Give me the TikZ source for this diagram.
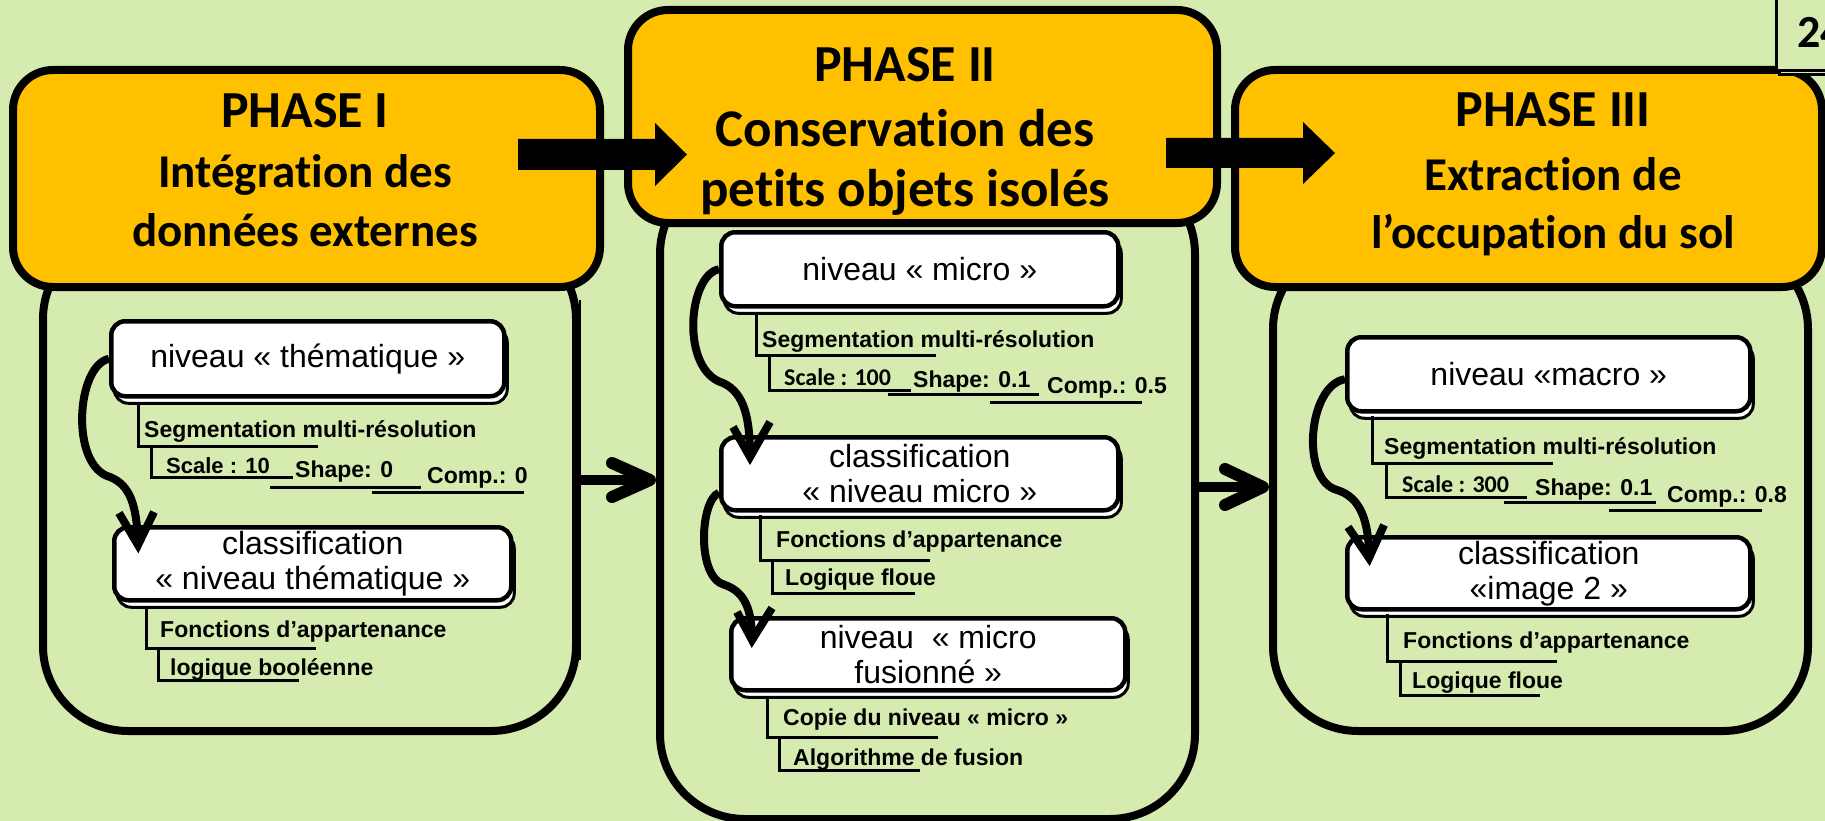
\documentclass[tikz,border=0pt]{standalone}
\usepackage{fontspec}
\newfontfamily\carlito[Ligatures={NoCommon,NoContextual}]{Carlito}
\newfontfamily\libsans{Liberation Sans}
\usetikzlibrary{shadows,calc}
\definecolor{bg}{RGB}{214,235,175}
\definecolor{hdrorange}{RGB}{255,192,0}
\newcommand{\nolig}{\kern0pt}
\tikzset{
  hdr/.style={draw=black, fill=hdrorange, line width=8pt, rounded corners=40pt, inner sep=0pt, anchor=north west},
  bodybox/.style={draw=black, line width=8pt, rounded corners=85pt, inner sep=0pt, anchor=north west},
  wbox/.style={draw=black, fill=white, line width=4.5pt, rounded corners=14pt, inner sep=0pt, anchor=north west, align=center,
    font=\libsans\fontsize{32}{35}\selectfont,
    general shadow={fill=white, draw=black, line width=3pt, shadow xshift=3pt, shadow yshift=-7pt}},
  htxt/.style={anchor=base, inner sep=0pt},
  ttl/.style={htxt, font=\carlito\bfseries\fontsize{52}{60}\selectfont},
  ann/.style={anchor=base west, inner sep=0pt, font=\libsans\bfseries\fontsize{23}{26}\selectfont},
  annc/.style={anchor=base west, inner sep=0pt, font=\carlito\bfseries\fontsize{24}{26}\selectfont},
  bline/.style={line width=3pt},
  curv/.style={line width=8pt},
  chev/.style={line width=8pt, line join=miter},
  shaft/.style={line width=10pt},
  barb/.style={line width=12pt, line cap=round, line join=round},
}
\begin{document}
\begin{tikzpicture}[x=1pt,y=-1pt]
\clip (0,0) rectangle (1825,821);
\fill[bg] (0,0) rectangle (1825,821);

% body boxes
\node[bodybox, minimum width=533pt, minimum height=497pt] (b1) at (39,230) {};
\node[bodybox, minimum width=535pt, minimum height=650pt] (b2) at (656,165) {};
\node[bodybox, minimum width=535pt, minimum height=487pt] (b3) at (1269,240) {};
\draw[line width=2pt] (580,300) -- (580,660);

% headers
\node[hdr, minimum width=587pt, minimum height=217pt] (h1) at (9,66) {};
\node[hdr, minimum width=589pt, minimum height=213pt] (h2) at (624,6) {};
\node[hdr, minimum width=587pt, minimum height=217pt] (h3) at (1231,66) {};

% block arrows
\coordinate (ba1) at (518,154.5);
\coordinate (ba2) at (1166,153);
\fill (ba1) ++(0,-15.5) -- ++(137,0) -- ++(0,-16) -- (687,154.5) -- (655,186) -- (655,170) -- (518,170) -- cycle;
\fill (ba2) ++(0,-15) -- ++(137,0) -- ++(0,-16) -- (1335,153) -- (1303,184) -- (1303,168) -- (1166,168) -- cycle;

% header texts
\node[ttl] (h1a) at (305,128) {PHASE I};
\node[htxt, font=\carlito\bfseries\fontsize{47}{56}\selectfont] (h1b) at (305,188) {Intégrat\nolig ion des};
\node[htxt, font=\carlito\bfseries\fontsize{47}{56}\selectfont] (h1c) at (305,246) {données externes};
\node[ttl] (h2a) at (905,82) {PHASE II};
\node[htxt, font=\carlito\bfseries\fontsize{53}{60}\selectfont] (h2b) at (905,147) {Conservat\nolig ion des};
\node[htxt, font=\carlito\bfseries\fontsize{53}{60}\selectfont] (h2c) at (905,207) {pet\nolig its objets isolés};
\node[ttl] (h3a) at (1553,127) {PHASE III};
\node[htxt, font=\carlito\bfseries\fontsize{47}{56}\selectfont] (h3b) at (1553,190) {Extract\nolig ion de};
\node[htxt, font=\carlito\bfseries\fontsize{47}{56}\selectfont] (h3c) at (1553,248) {l’occupat\nolig ion du sol};

% page number box
\draw[line width=3pt, fill=bg] (1779,-10) rectangle (1840,75);
\draw[line width=3pt, fill=bg] (1776,-10) rectangle (1840,71);
\node[anchor=base west, inner sep=0pt, font=\carlito\bfseries\fontsize{46}{50}\selectfont] (pg) at (1797,48) {24};

% white nodes
\node[wbox, minimum width=393pt, minimum height=75pt] (n1) at (109,319) {niveau « thématique »};
\node[wbox, minimum width=397pt, minimum height=73pt] (n2) at (112,525) {classification\\« niveau thématique »};
\node[wbox, minimum width=397pt, minimum height=74pt] (m1) at (719,230) {niveau « micro »};
\node[wbox, minimum width=397pt, minimum height=73pt] (m2) at (719,435) {classification\\« niveau micro »};
\node[wbox, minimum width=394pt, minimum height=72pt] (m3) at (729,616) {niveau~~« micro\\fusionné »};
\node[wbox, minimum width=403pt, minimum height=74pt] (q1) at (1345,335) {niveau «macro »};
\node[wbox, minimum width=403pt, minimum height=72pt] (q2) at (1345,535) {classification\\«image 2 »};

% curved arrows
\coordinate (t1) at (138,545);
\draw[curv] (n1.west) .. controls (76,366) and (70,466) .. (110,477) .. controls (130,485) and (137,505) .. (t1);
\draw[chev] (119,513) -- (t1) -- (154,512);
\coordinate (t2) at (750,457);
\draw[curv] (m1.west) .. controls (688,275) and (680,370) .. (723,383) .. controls (745,393) and (750,420) .. (t2);
\draw[chev] (733,427) -- (t2) -- (770,422);
\coordinate (t3) at (752,640);
\draw[curv] ([yshift=-19pt]m2.west) .. controls (700,500) and (696,578) .. (725,585) .. controls (745,592) and (752,610) .. (t3);
\draw[chev] (737,612) -- (t3) -- (772,608);
\coordinate (t4) at (1369,558);
\draw[curv] ([yshift=-5pt]q1.west) .. controls (1308,385) and (1300,480) .. (1337,490) .. controls (1360,497) and (1369,520) .. (t4);
\draw[chev] (1348,527) -- (t4) -- (1384,525);

% annotations phase I
\draw[bline] (138,403) -- (138,446) -- (318,446);
\node[ann] (a11) at (144,437) {Segmentation multi-résolution};
\draw[bline] (151,446) -- (151,477) -- (293,477);
\node[ann, font=\libsans\bfseries\fontsize{22}{26}\selectfont] (a12) at (166,473) {Scale : 10};
\node[ann] (a13) at (295,477) {Shape: 0};
\draw[bline] (270,487) -- (421,487);
\node[ann] (a14) at (427,483) {Comp.: 0};
\draw[bline] (372,492) -- (524,492);
\draw[bline] (146,607) -- (146,648) -- (316,648);
\node[ann] (a15) at (160,637) {Fonctions d’appartenance};
\draw[bline] (158,648) -- (158,680) -- (299,680);
\node[ann] (a16) at (170,675) {logique booléenne};

% annotations phase II
\draw[bline] (756,312) -- (756,355) -- (936,355);
\node[ann] (a21) at (762,347) {Segmentation multi-résolution};
\draw[bline] (769,355) -- (769,390) -- (911,390);
\node[annc] (a22) at (784,385) {Scale : 100};
\node[ann] (a23) at (913,387) {Shape: 0.1};
\draw[bline] (888,394) -- (1039,394);
\node[ann] (a24) at (1047,393) {Comp.: 0.5};
\draw[bline] (990,402) -- (1142,402);
\draw[bline] (760,515) -- (760,560) -- (930,560);
\node[ann] (a25) at (776,547) {Fonctions d’appartenance};
\draw[bline] (772,560) -- (772,593) -- (915,593);
\node[ann] (a26) at (785,585) {Logique floue};
\draw[bline] (767,696) -- (767,737) -- (938,737);
\node[ann] (a27) at (783,725) {Copie du niveau « micro »};
\draw[bline] (779,737) -- (779,770) -- (920,770);
\node[ann] (a28) at (793,765) {Algorithme de fusion};

% annotations phase III
\draw[bline] (1372,416) -- (1372,463) -- (1553,463);
\node[ann] (a31) at (1384,454) {Segmentation multi-résolution};
\draw[bline] (1386,463) -- (1386,497) -- (1527,497);
\node[annc] (a32) at (1402,492) {Scale : 300};
\node[ann] (a33) at (1535,495) {Shape: 0.1};
\draw[bline] (1504,502) -- (1656,502);
\node[ann] (a34) at (1667,502) {Comp.: 0.8};
\draw[bline] (1609,510) -- (1762,510);
\draw[bline] (1387,614) -- (1387,661) -- (1557,661);
\node[ann] (a35) at (1403,648) {Fonctions d’appartenance};
\draw[bline] (1400,661) -- (1400,695) -- (1540,695);
\node[ann] (a36) at (1412,688) {Logique floue};

% thin arrows between phases
\coordinate (e1) at (650,480);
\draw[shaft] (b1.east |- e1) -- (e1);
\draw[barb] (612,463) -- (e1) -- (612,497);
\coordinate (e2) at (1263,487);
\draw[shaft] (b2.east |- e2) -- (e2);
\draw[barb] (1225,469) -- (e2) -- (1225,505);
\end{tikzpicture}
\end{document}
